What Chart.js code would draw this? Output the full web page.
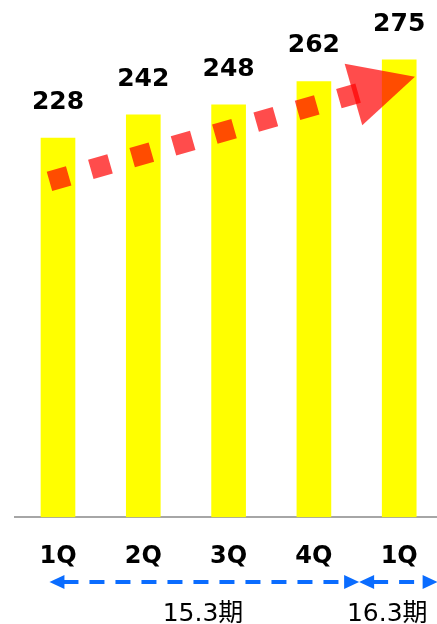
<!DOCTYPE html>
<html>
<head>
<meta charset="utf-8">
<script src="https://cdn.jsdelivr.net/npm/chart.js@4/dist/chart.umd.min.js"></script>
<style>
  html, body { margin: 0; padding: 0; background: #fff; overflow: hidden; }
  #wrap { width: 437px; height: 624px; position: relative; }
</style>
</head>
<body>
<div id="wrap"><canvas id="canvas-chart"></canvas></div>
<script>
// quarters and sales values
const quarters = ['1Q', '2Q', '3Q', '4Q', '1Q'];
const sales = [228, 242, 248, 262, 275];

// period brackets under the axis (x in category units)
const periodLabels = ['15.3期', '16.3期'];
const periodFrom = [-0.1, 3.53];
const periodTo = [3.53, 4.45];
const periodTextX = [1.7, 3.86];

// trend arrow (data units)
const trendFrom = { x: -0.1, y: 202 };
const trendTo = { x: 4.185, y: 264.8 };

let ctx = document.getElementById('canvas-chart').getContext('2d');

const overlay = {
    id: 'overlay',
    afterDatasetsDraw(chart) {
        const c = chart.ctx;
        const xs = chart.scales.x;
        const ys = chart.scales.y;
        const meta = chart.getDatasetMeta(0);

        // value labels above bars
        c.save();
        c.fillStyle = '#000';
        c.font = 'bold 25px "DejaVu Sans"';
        c.textAlign = 'center';
        c.textBaseline = 'alphabetic';
        meta.data.forEach((bar, i) => {
            c.fillText(String(sales[i]), bar.x, bar.y - 29);
        });
        c.restore();

        // red dashed trend arrow
        const x0 = xs.getPixelForValue(trendFrom.x), y0 = ys.getPixelForValue(trendFrom.y);
        const x1 = xs.getPixelForValue(trendTo.x), y1 = ys.getPixelForValue(trendTo.y);
        const ang = Math.atan2(y1 - y0, x1 - x0);
        const headLen = 64, headW = 32;
        const bx = x1 - Math.cos(ang) * headLen, by = y1 - Math.sin(ang) * headLen;
        c.save();
        c.strokeStyle = 'rgba(255,0,0,0.7)';
        c.lineWidth = 20;
        c.lineCap = 'butt';
        c.setLineDash([20, 23]);
        c.beginPath();
        c.moveTo(x0, y0);
        c.lineTo(bx + Math.cos(ang) * 10, by + Math.sin(ang) * 10);
        c.stroke();
        c.setLineDash([]);
        c.fillStyle = 'rgba(255,0,0,0.7)';
        c.beginPath();
        c.moveTo(x1, y1);
        c.lineTo(bx + Math.sin(ang) * headW, by - Math.cos(ang) * headW);
        c.lineTo(bx - Math.sin(ang) * headW, by + Math.cos(ang) * headW);
        c.closePath();
        c.fill();
        c.restore();

        // blue period arrows + labels
        const py = 582;
        const blue = '#0a6cff';
        function head(tx, dir) {
            c.beginPath();
            c.moveTo(tx, py);
            c.lineTo(tx - dir * 15, py - 7);
            c.lineTo(tx - dir * 15, py + 7);
            c.closePath();
            c.fill();
        }
        c.save();
        c.strokeStyle = blue;
        c.fillStyle = blue;
        c.lineWidth = 4;
        periodLabels.forEach((lab, i) => {
            const a = xs.getPixelForValue(periodFrom[i]);
            const b = xs.getPixelForValue(periodTo[i]);
            c.setLineDash([15, 11]);
            c.beginPath();
            c.moveTo(a + 14, py);
            c.lineTo(b - 14, py);
            c.stroke();
            c.setLineDash([]);
            head(a, -1);
            head(b, 1);
        });
        c.fillStyle = '#000';
        c.font = '25px "DejaVu Sans", "Noto Sans CJK JP"';
        c.textAlign = 'center';
        c.textBaseline = 'alphabetic';
        periodLabels.forEach((lab, i) => {
            c.fillText(lab, xs.getPixelForValue(periodTextX[i]), 621);
        });
        c.restore();
    }
};

let salesChart = new Chart(ctx, {
    type: 'bar',
    data: {
        datasets: [{
            data: sales.map((v, i) => ({ x: i, y: v })),
            backgroundColor: '#ffff00',
            barThickness: 34
        }]
    },
    options: {
        responsive: true,
        maintainAspectRatio: false,
        animation: false,
        layout: { padding: { left: 15, right: 0, top: 0, bottom: 28 } },
        plugins: {
            legend: { display: false },
            tooltip: { enabled: false }
        },
        scales: {
            x: {
                type: 'linear',
                offset: false,
                bounds: 'data',
                min: -0.504,
                max: 4.443,
                grid: { display: false, drawTicks: false },
                border: { display: true, color: '#a6a6a6', width: 2 },
                afterBuildTicks: (axis) => {
                    axis.ticks = quarters.map((q, i) => ({ value: i }));
                },
                afterFit: (axis) => {
                    axis.paddingLeft = 0;
                    axis.paddingRight = 0;
                },
                ticks: {
                    autoSkip: false,
                    maxRotation: 0,
                    padding: 25,
                    color: '#000',
                    font: { family: 'DejaVu Sans', weight: 'bold', size: 24 },
                    callback: (v, i) => quarters[i]
                }
            },
            y: {
                display: false,
                min: 0,
                max: 311
            }
        }
    },
    plugins: [overlay]
});
</script>
</body>
</html>
